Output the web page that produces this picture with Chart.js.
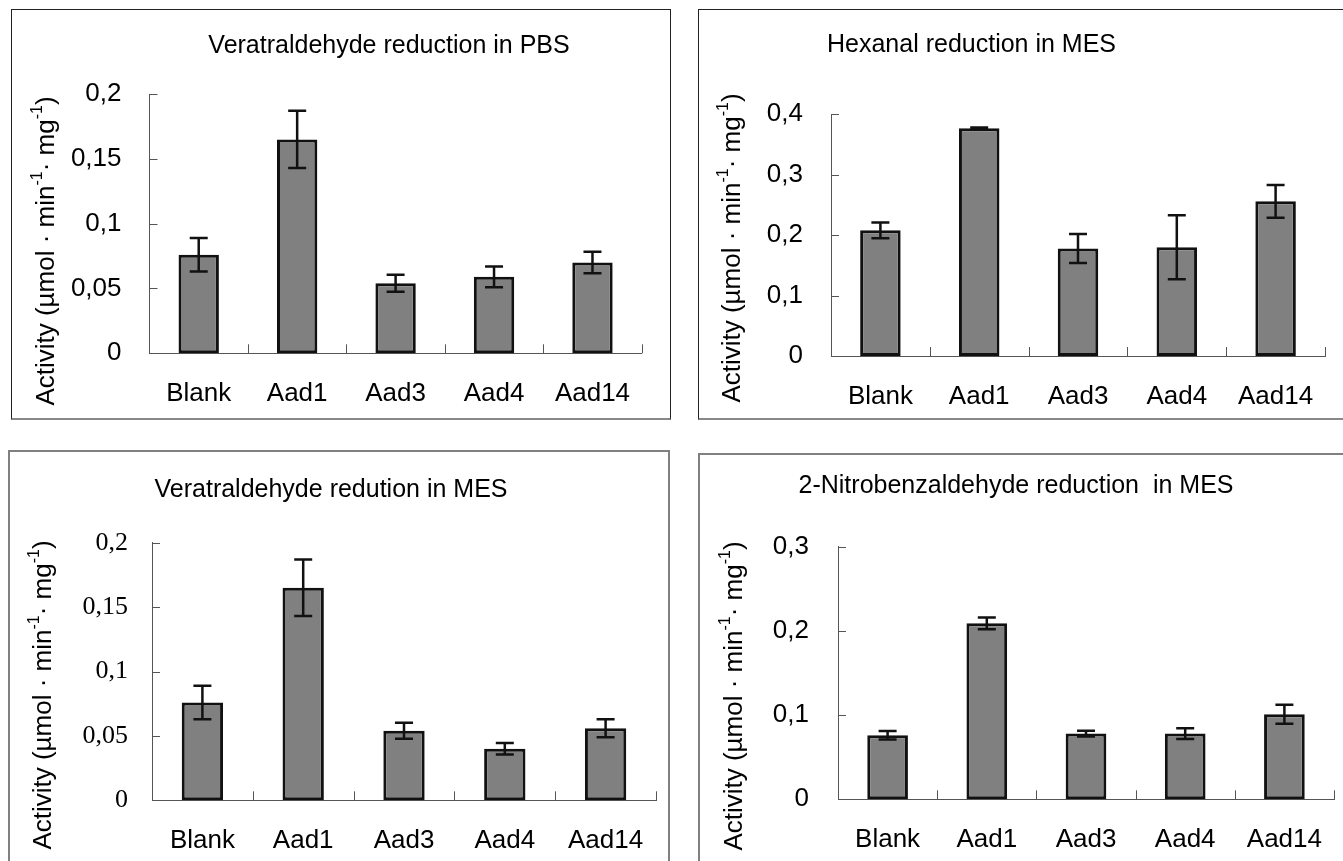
<!DOCTYPE html>
<html>
<head>
<meta charset="utf-8">
<script src="https://cdn.jsdelivr.net/npm/chart.js@4.4.1/dist/chart.umd.min.js"></script>
<style>
  html, body { margin: 0; padding: 0; background: #fff; width: 1343px; height: 861px; overflow: hidden; }
  .panel { position: absolute; }
  .panel canvas { position: absolute; left: 0; top: 0; }
  .frame { position: absolute; left: 0; top: 0; right: 0; bottom: 0; box-sizing: border-box; pointer-events: none; }
</style>
</head>
<body>
<div class="panel" id="p1"><canvas id="c1"></canvas><div class="frame"></div></div>
<div class="panel" id="p2"><canvas id="c2"></canvas><div class="frame"></div></div>
<div class="panel" id="p3"><canvas id="c3"></canvas><div class="frame"></div></div>
<div class="panel" id="p4"><canvas id="c4"></canvas><div class="frame"></div></div>
<script>
// data
const categories = ['Blank', 'Aad1', 'Aad3', 'Aad4', 'Aad14']

const veratrPBS = [0.076, 0.165, 0.054, 0.059, 0.070]
const veratrPBSErr = [0.013, 0.022, 0.0065, 0.008, 0.0083]

const hexanalMES = [0.208, 0.377, 0.178, 0.180, 0.256]
const hexanalMESErr = [0.013, 0.001, 0.024, 0.053, 0.027]

const veratrMES = [0.076, 0.165, 0.054, 0.040, 0.056]
const veratrMESErr = [0.013, 0.022, 0.0062, 0.0045, 0.007]

const nitroMES = [0.076, 0.209, 0.078, 0.078, 0.101]
const nitroMESErr = [0.005, 0.007, 0.0035, 0.0063, 0.0113]

const yTicks1 = { max: 0.2, step: 0.05 }
const yTicks2 = { max: 0.4, step: 0.1 }
const yTicks3 = { max: 0.2, step: 0.05 }
const yTicks4 = { max: 0.3, step: 0.1 }

const sans = "'Liberation Sans', Arial, sans-serif"
const serif = "'Liberation Serif', 'Times New Roman', serif"

// layout: box = [left, top, width, height] on page, area = chart area inside the canvas
const panels = [
  { id: 'p1', canvas: 'c1', box: [11, 9, 660, 411], frame: 'dark',
    area: [138.5, 85, 630.7, 344.3], title: 'Veratraldehyde reduction in PBS',
    titlePos: [378, 44, 'center'], yTitlePos: [33, 242],
    values: veratrPBS, errors: veratrPBSErr, ticks: yTicks1, tickFont: sans, yPad: 28 },
  { id: 'p2', canvas: 'c2', box: [698, 9, 660, 411], frame: 'dark',
    area: [133, 105.3, 627, 347], title: 'Hexanal reduction in MES',
    titlePos: [129, 43, 'left'], yTitlePos: [32, 239],
    values: hexanalMES, errors: hexanalMESErr, ticks: yTicks2, tickFont: sans, yPad: 28 },
  { id: 'p3', canvas: 'c3', box: [8, 450, 662, 430], frame: 'gray',
    area: [144, 92.7, 648, 350.3], title: 'Veratraldehyde redution in MES',
    titlePos: [323, 46.5, 'center'], yTitlePos: [33, 245],
    values: veratrMES, errors: veratrMESErr, ticks: yTicks3, tickFont: serif, yPad: 24 },
  { id: 'p4', canvas: 'c4', box: [698, 453, 660, 430], frame: 'gray',
    area: [140, 93.7, 636, 346.3], title: '2-Nitrobenzaldehyde reduction  in MES',
    titlePos: [318, 40, 'center'], yTitlePos: [34, 243],
    values: nitroMES, errors: nitroMESErr, ticks: yTicks4, tickFont: sans, yPad: 29 }
]

// y title pieces: [text, superscript?]
const yTitleParts = [['Activity (µmol · min', false], ['-1', true], ['· mg', false], ['-1', true], [')', false]]

let decorate = {
  id: 'decorate',
  afterDatasetsDraw(chart, args, opts) {
    const ctx = chart.ctx
    const xs = chart.scales.x
    const ys = chart.scales.y
    ctx.save()
    // inward tick marks
    ctx.strokeStyle = '#555'
    ctx.lineWidth = 1
    ctx.beginPath()
    ys.ticks.forEach(t => {
      const py = Math.round(ys.getPixelForValue(t.value)) + 0.5
      ctx.moveTo(xs.left, py)
      ctx.lineTo(xs.left + 8, py)
    })
    const n = categories.length
    for (let i = 1; i <= n; i++) {
      const px = Math.round(xs.left + i * xs.width / n) + 0.5
      ctx.moveTo(px, ys.bottom)
      ctx.lineTo(px, ys.bottom - 9)
    }
    ctx.stroke()

    // error bars
    const ds = chart.data.datasets[0]
    const meta = chart.getDatasetMeta(0)
    ctx.strokeStyle = '#111'
    ctx.lineWidth = 2.5
    meta.data.forEach((bar, i) => {
      const v = ds.data[i], e = ds.errors[i]
      const yt = ys.getPixelForValue(v + e)
      const yb = ys.getPixelForValue(v - e)
      ctx.beginPath()
      ctx.moveTo(bar.x, yt); ctx.lineTo(bar.x, yb)
      ctx.moveTo(bar.x - 9, yt); ctx.lineTo(bar.x + 9, yt)
      ctx.moveTo(bar.x - 9, yb); ctx.lineTo(bar.x + 9, yb)
      ctx.stroke()
    })
    ctx.restore()
  },
  afterDraw(chart, args, opts) {
    const ctx = chart.ctx
    ctx.save()
    ctx.fillStyle = '#000'
    // chart title
    ctx.font = '25px ' + sans
    ctx.textAlign = opts.titlePos[2]
    ctx.textBaseline = 'alphabetic'
    ctx.fillText(opts.title, opts.titlePos[0], opts.titlePos[1])

    // rotated y title with superscripts
    const big = '26px ' + sans, small = '16px ' + sans
    let total = 0
    yTitleParts.forEach(p => { ctx.font = p[1] ? small : big; total += ctx.measureText(p[0]).width })
    ctx.translate(opts.yTitlePos[0], opts.yTitlePos[1])
    ctx.rotate(-Math.PI / 2)
    ctx.textAlign = 'left'
    ctx.textBaseline = 'alphabetic'
    let cx = -total / 2
    yTitleParts.forEach(p => {
      ctx.font = p[1] ? small : big
      ctx.fillText(p[0], cx, p[1] ? -2 : 10)
      cx += ctx.measureText(p[0]).width
    })
    ctx.restore()
  }
}

panels.forEach(p => {
  const wrap = document.getElementById(p.id)
  const [bx, by, bw, bh] = p.box
  wrap.style.left = bx + 'px'
  wrap.style.top = by + 'px'
  wrap.style.width = bw + 'px'
  wrap.style.height = bh + 'px'
  const frame = wrap.querySelector('.frame')
  if (p.frame === 'dark') {
    frame.style.border = '1px solid #222'
    frame.style.borderBottom = '2px solid #888'
  } else {
    frame.style.border = '2px solid #808080'
  }
  const cv = document.getElementById(p.canvas)
  cv.width = bw
  cv.height = bh

  const [aL, aT, aR, aB] = p.area
  new Chart(cv, {
    type: 'bar',
    data: {
      labels: categories,
      datasets: [{
        data: p.values,
        errors: p.errors,
        backgroundColor: '#808080',
        borderColor: '#111',
        borderWidth: 3,
        borderSkipped: false,
        barPercentage: 0.41,
        categoryPercentage: 1
      }]
    },
    options: {
      responsive: false,
      devicePixelRatio: 1,
      animation: false,
      layout: { padding: { left: 0, top: aT, right: bw - aR, bottom: 0 } },
      scales: {
        x: {
          grid: { display: false, drawTicks: false },
          border: { display: true, color: '#555', width: 1 },
          ticks: { color: '#000', font: { family: sans, size: 26 }, padding: 25, maxRotation: 0, autoSkip: false },
          afterFit: s => { s.height = bh - aB }
        },
        y: {
          min: 0,
          max: p.ticks.max,
          grid: { display: false, drawTicks: false },
          border: { display: true, color: '#555', width: 1 },
          ticks: {
            stepSize: p.ticks.step,
            color: '#000',
            font: { family: p.tickFont, size: 26 },
            padding: p.yPad,
            callback: v => String(+v.toFixed(3)).replace('.', ',')
          },
          afterFit: s => { s.width = aL }
        }
      },
      plugins: {
        legend: { display: false },
        tooltip: { enabled: false },
        decorate: { title: p.title, titlePos: p.titlePos, yTitlePos: p.yTitlePos }
      }
    },
    plugins: [decorate]
  })
})
</script>
</body>
</html>
